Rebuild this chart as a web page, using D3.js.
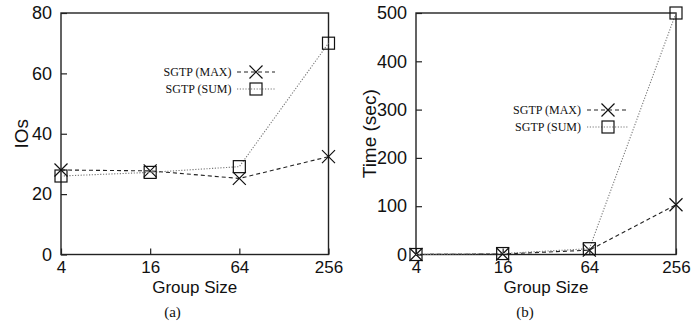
<!DOCTYPE html>
<html>
<head>
<meta charset="utf-8">
<script src="https://cdn.jsdelivr.net/npm/d3@7"></script>
<style>
  body { margin: 0; background: #fff; }
  svg { display: block; }
  .axis text { font-family: "Liberation Sans", Arial, sans-serif; font-size: 18px; fill: #111; }
  .axis-x text { font-size: 17px; }
  .axis path { display: none; }
  .axis line { stroke: #222; stroke-width: 1.2; }
</style>
</head>
<body>
<svg id="chart" width="697" height="327"></svg>
<script>
const groupSizes = ['4', '16', '64', '256'];
const seriesNames = ['SGTP (MAX)', 'SGTP (SUM)'];

// (a) IOs
const iosMax = [28, 27.7, 25.2, 32.4];
const iosSum = [26, 27.2, 29.1, 70];
const iosTicks = [0, 20, 40, 60, 80];

// (b) time in seconds
const timeMax = [0, 1, 9, 103];
const timeSum = [0, 2, 12, 500];
const timeTicks = [0, 100, 200, 300, 400, 500];

const TOP = 13;
const BOTTOM = 254.5;

const panels = [
  { left: 61, right: 328.5, yMax: 80, ticks: iosTicks, yLabel: 'IOs', yLabelX: 28,
    data: [iosMax, iosSum], caption: '(a)', captionX: 172.5,
    legend: { textX: 231.5, y: 72, lineX0: 237, lineX1: 275, markX: 256 } },
  { left: 416, right: 676, yMax: 500, ticks: timeTicks, yLabel: 'Time (sec)', yLabelX: 376,
    data: [timeMax, timeSum], caption: '(b)', captionX: 525,
    legend: { textX: 581, y: 110, lineX0: 587, lineX1: 628, markX: 608 } },
];

const lineStyles = [
  { stroke: '#222', dash: '4,3', width: 1.1 },
  { stroke: '#777', dash: '1.2,1.6', width: 1.1 },
];

const svg = d3.select('#chart');

function drawMarker(g, kind, cx, cy) {
  if (kind === 0) {
    const h = 6.5;
    g.append('path')
      .attr('d', `M${cx - h},${cy - h}L${cx + h},${cy + h}M${cx - h},${cy + h}L${cx + h},${cy - h}`)
      .attr('stroke', '#111').attr('stroke-width', 1.2).attr('fill', 'none');
  } else {
    const h = 6;
    g.append('rect')
      .attr('x', cx - h).attr('y', cy - h).attr('width', 2 * h).attr('height', 2 * h)
      .attr('stroke', '#111').attr('stroke-width', 1.2).attr('fill', 'none');
  }
}

panels.forEach(p => {
  const x = d3.scalePoint().domain(groupSizes).range([p.left, p.right]);
  const y = d3.scaleLinear().domain([0, p.yMax]).range([BOTTOM, TOP]);
  const g = svg.append('g');

  g.append('g').attr('class', 'axis')
    .attr('transform', `translate(${p.left},0)`)
    .call(d3.axisLeft(y).tickValues(p.ticks).tickSize(-6).tickPadding(9));

  g.append('g').attr('class', 'axis axis-x')
    .attr('transform', `translate(0,${BOTTOM})`)
    .call(d3.axisBottom(x).tickSize(-6).tickPadding(6.5));

  g.append('rect')
    .attr('x', p.left).attr('y', TOP)
    .attr('width', p.right - p.left).attr('height', BOTTOM - TOP)
    .attr('fill', 'none').attr('stroke', '#222').attr('stroke-width', 1.4);

  const line = d3.line().x((d, i) => x(groupSizes[i])).y(d => y(d));

  p.data.forEach((values, s) => {
    const st = lineStyles[s];
    g.append('path')
      .datum(values)
      .attr('d', line)
      .attr('fill', 'none')
      .attr('stroke', st.stroke)
      .attr('stroke-width', st.width)
      .attr('stroke-dasharray', st.dash);
    values.forEach((v, i) => drawMarker(g, s, x(groupSizes[i]), y(v)));
  });

  // legend
  const L = p.legend;
  seriesNames.forEach((name, s) => {
    const ly = L.y + s * 17;
    const st = lineStyles[s];
    g.append('text')
      .attr('x', L.textX).attr('y', ly).attr('dy', '0.35em')
      .attr('text-anchor', 'end')
      .style('font-family', '"Liberation Serif", "Times New Roman", serif')
      .style('font-size', '12px')
      .attr('fill', '#111')
      .text(name);
    g.append('line')
      .attr('x1', L.lineX0).attr('x2', L.lineX1).attr('y1', ly).attr('y2', ly)
      .attr('stroke', st.stroke).attr('stroke-width', st.width)
      .attr('stroke-dasharray', st.dash);
    drawMarker(g, s, L.markX, ly);
  });

  g.append('text')
    .attr('transform', `translate(${p.yLabelX},${(TOP + BOTTOM) / 2}) rotate(-90)`)
    .attr('text-anchor', 'middle')
    .style('font-family', '"Liberation Sans", Arial, sans-serif')
    .style('font-size', '19px')
    .attr('fill', '#111')
    .text(p.yLabel);

  g.append('text')
    .attr('x', (p.left + p.right) / 2).attr('y', 292.5)
    .attr('text-anchor', 'middle')
    .style('font-family', '"Liberation Sans", Arial, sans-serif')
    .style('font-size', '17px')
    .attr('fill', '#111')
    .text('Group Size');

  g.append('text')
    .attr('x', p.captionX).attr('y', 317)
    .attr('text-anchor', 'middle')
    .style('font-family', '"Liberation Serif", "Times New Roman", serif')
    .style('font-size', '15px')
    .attr('fill', '#111')
    .text(p.caption);
});
</script>
</body>
</html>
